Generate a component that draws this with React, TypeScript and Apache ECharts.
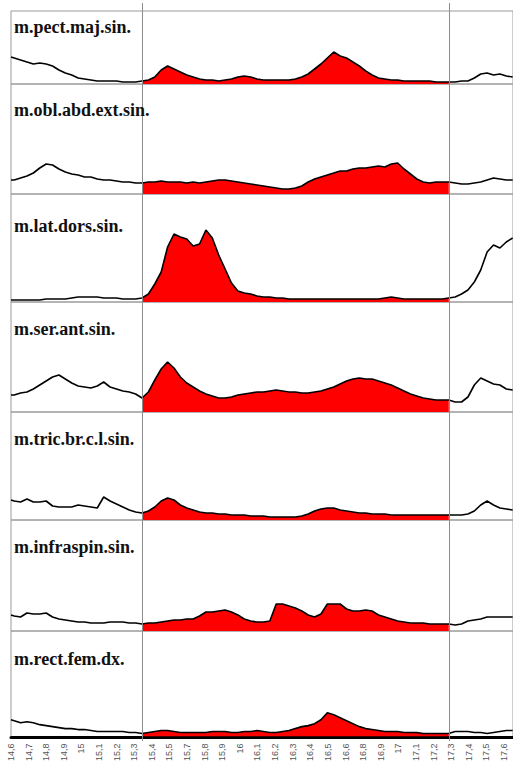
import React, { useEffect, useRef } from "react";
import * as echarts from "echarts";

// ---------- DATA ----------
const MUSCLES = [
  "m.pect.maj.sin.",
  "m.obl.abd.ext.sin.",
  "m.lat.dors.sin.",
  "m.ser.ant.sin.",
  "m.tric.br.c.l.sin.",
  "m.infraspin.sin.",
  "m.rect.fem.dx.",
];

const TIMES = [
  14.60, 14.62, 14.66, 14.70, 14.74, 14.78, 14.82, 14.86, 14.90, 14.94,
  14.98, 15.02, 15.06, 15.10, 15.14, 15.18, 15.22, 15.26, 15.30, 15.34,
  15.38, 15.42, 15.46, 15.50, 15.54, 15.58, 15.62, 15.66, 15.70, 15.74,
  15.78, 15.82, 15.86, 15.90, 15.94, 15.98, 16.02, 16.06, 16.10, 16.14,
  16.18, 16.22, 16.26, 16.30, 16.34, 16.38, 16.42, 16.46, 16.50, 16.54,
  16.58, 16.62, 16.66, 16.70, 16.74, 16.78, 16.82, 16.86, 16.90, 16.94,
  16.98, 17.02, 17.06, 17.10, 17.14, 17.18, 17.22, 17.26, 17.30, 17.34,
  17.38, 17.42, 17.46, 17.50, 17.54, 17.58, 17.62, 17.66, 17.70, 17.74,
];

const PECT_MAJ = [
  27,
  26, 24, 22, 20, 21, 20, 18, 14, 11, 9, 6, 5, 4, 3, 3, 3, 3, 2, 2, 2, 3,
  4, 7, 14, 18, 15, 12, 9, 7, 5, 4,
  4, 3, 4, 5, 7, 8, 7, 5, 4, 4,
  4, 4, 4, 5, 7, 10, 15, 20, 26, 32,
  28, 26, 22, 18, 13, 9, 6, 5, 4, 4,
  3, 3, 3, 3, 3, 2, 2, 2,
  2, 3, 3, 6, 10, 11, 9, 10, 8,
  7,
];

const OBL_ABD = [
  14,
  14, 16, 18, 21, 26, 30, 29, 25, 22, 20, 19, 17, 17, 15, 14, 14, 13, 12, 12, 11, 11,
  12, 12, 13, 12, 12, 12, 11, 12, 11, 12,
  13, 14, 14, 13, 12, 11, 10, 9, 8, 7,
  6, 5, 5, 6, 8, 12, 15, 17, 19, 21,
  23, 23, 25, 26, 26, 27, 28, 27, 30, 31,
  25, 20, 15, 12, 11, 12, 12, 12,
  11, 10, 10, 11, 12, 14, 16, 15, 14,
  14,
];

const LAT_DORS = [
  2,
  2, 2, 2, 2, 2, 3, 3, 3, 3, 4, 5, 5, 5, 5, 4, 4, 4, 3, 3, 3, 4,
  8, 18, 30, 55, 68, 65, 63, 56, 58, 72,
  64, 47, 33, 19, 11, 9, 8, 6, 5, 5,
  4, 4, 3, 3, 3, 3, 3, 3, 3, 3,
  3, 3, 3, 3, 3, 3, 3, 4, 5, 4,
  3, 3, 3, 3, 3, 3, 3, 4,
  5, 8, 12, 20, 32, 50, 57, 54, 60,
  64,
];

const SER_ANT = [
  17,
  17, 19, 20, 23, 27, 31, 35, 37, 33, 29, 26, 25, 24, 26, 30, 25, 23, 21, 20, 18, 14,
  20, 32, 43, 50, 44, 35, 29, 25, 21, 18,
  16, 14, 14, 15, 17, 18, 19, 20, 20, 21,
  22, 21, 20, 20, 19, 19, 20, 21, 23, 25,
  28, 31, 33, 34, 33, 33, 31, 29, 27, 24,
  21, 18, 16, 14, 13, 12, 12, 12,
  10, 10, 15, 27, 34, 31, 28, 27, 23,
  22,
];

const TRIC_BR = [
  20,
  19, 18, 21, 18, 18, 19, 14, 13, 13, 13, 15, 14, 13, 12, 23, 19, 16, 13, 10, 8, 7,
  9, 13, 19, 22, 20, 15, 12, 10, 8, 7,
  7, 6, 6, 5, 5, 5, 4, 4, 4, 3,
  3, 3, 3, 3, 4, 6, 9, 11, 12, 12,
  10, 9, 8, 7, 7, 6, 6, 6, 5, 5,
  5, 5, 5, 5, 5, 5, 5, 5,
  5, 5, 6, 9, 15, 19, 15, 12, 11,
  10,
];

const INFRASPIN = [
  16,
  15, 14, 18, 17, 17, 18, 14, 12, 11, 10, 9, 9, 8, 8, 8, 9, 9, 9, 8, 8, 7,
  8, 8, 9, 10, 11, 11, 12, 12, 15, 19,
  19, 20, 21, 19, 16, 12, 10, 9, 9, 10,
  27, 27, 25, 23, 20, 16, 14, 17, 27, 27,
  27, 22, 20, 20, 21, 20, 16, 14, 12, 10,
  9, 8, 8, 8, 7, 7, 7, 7,
  6, 7, 10, 11, 12, 14, 14, 14, 14,
  14,
];

const RECT_FEM = [
  17,
  16, 14, 15, 14, 12, 11, 10, 9, 8, 8, 7, 7, 6, 5, 5, 5, 5, 5, 4, 4, 3,
  4, 5, 6, 6, 5, 4, 4, 4, 4, 4,
  5, 5, 5, 4, 4, 5, 5, 6, 5, 4,
  4, 5, 6, 8, 10, 11, 13, 17, 24, 22,
  19, 16, 13, 10, 8, 7, 6, 5, 5, 5,
  4, 4, 4, 3, 3, 3, 3, 3,
  5, 5, 5, 4, 4, 3, 4, 5, 6,
  6,
];

const EVENT_START = 15.42;
const EVENT_END = 17.34;

const TICK_LABELS = [
  "14,6", "14,7", "14,8", "14,9", "15", "15,1", "15,2", "15,3", "15,4", "15,5",
  "15,7", "15,8", "15,9", "16", "16,1", "16,2", "16,3", "16,4", "16,5", "16,6",
  "16,8", "16,9", "17", "17,1", "17,2", "17,3", "17,4", "17,5", "17,6",
];
const TICK_START = 14.6;
const TICK_STEP = 0.1102;
const X_MIN = 14.6;
const X_MAX = 17.742;

const Y_MAX = [73, 110, 108, 110, 108, 111, 107];

// ---------- LAYOUT ----------
const W = 513;
const H = 764;
const PANEL_TOPS = [11, 84, 194, 302, 412, 520, 631];
const PANEL_BOTTOM = 738;
const TITLE_TOPS = [18, 101, 217, 320, 430, 538, 650];
const LEFT = 11;
const RIGHT = -2;

export default function App() {
  const ref = useRef<HTMLDivElement>(null);

  useEffect(() => {
    if (!ref.current) return;
    const chart = echarts.init(ref.current, null, { renderer: "svg" });
    const values = [PECT_MAJ, OBL_ABD, LAT_DORS, SER_ANT, TRIC_BR, INFRASPIN, RECT_FEM];
    const n = MUSCLES.length;

    const grid: any[] = [];
    const xAxis: any[] = [];
    const yAxis: any[] = [];
    const series: any[] = [];
    const title: any[] = [];

    for (let i = 0; i < n; i++) {
      const top = PANEL_TOPS[i];
      const bottomPx = i < n - 1 ? PANEL_TOPS[i + 1] : PANEL_BOTTOM;
      grid.push({
        left: LEFT,
        right: RIGHT,
        top,
        height: bottomPx - top,
        show: true,
        borderColor: "#9a9a9a",
        borderWidth: 1,
        backgroundColor: "transparent",
      });
      const isLast = i === n - 1;
      xAxis.push({
        gridIndex: i,
        type: "value",
        min: X_MIN,
        max: X_MAX,
        interval: TICK_STEP,
        position: "bottom",
        offset: isLast ? 1 : 0,
        axisLine: { show: isLast, onZero: false, lineStyle: { color: "#000", width: 3 } },
        axisTick: { show: false },
        splitLine: { show: false },
        axisLabel: {
          show: isLast,
          rotate: 90,
          fontSize: 9,
          color: "#555",
          margin: 6,
          fontFamily: "Liberation Sans, Arial, sans-serif",
          showMaxLabel: false,
          formatter: (v: number) => {
            const k = Math.round((v - TICK_START) / TICK_STEP);
            return TICK_LABELS[k] ?? "";
          },
        },
      });
      yAxis.push({
        gridIndex: i,
        type: "value",
        min: 0,
        max: Y_MAX[i],
        show: false,
        splitLine: { show: false },
      });
      const vals = values[i];
      const redData = TIMES.map((t, k) => [t, vals[k]]).filter(
        (p) => p[0] >= EVENT_START && p[0] <= EVENT_END
      );
      series.push({
        type: "line",
        xAxisIndex: i,
        yAxisIndex: i,
        data: redData,
        symbol: "none",
        silent: true,
        lineStyle: { width: 0 },
        areaStyle: { color: "#ff0000", opacity: 1 },
        z: 2,
      });
      series.push({
        type: "line",
        xAxisIndex: i,
        yAxisIndex: i,
        data: TIMES.map((t, k) => [t, vals[k]]),
        symbol: "none",
        silent: true,
        lineStyle: { color: "#000", width: 1.6 },
        z: 3,
      });
      title.push({
        text: MUSCLES[i],
        left: 14,
        top: TITLE_TOPS[i],
        padding: 0,
        textStyle: {
          fontFamily: "Liberation Serif, serif",
          fontWeight: "bold",
          fontSize: 18,
          color: "#111",
        },
      });
    }

    // overlay grid for event markers
    grid.push({ left: LEFT, right: RIGHT, top: 3, bottom: H - 741, show: false });
    xAxis.push({ gridIndex: n, type: "value", min: X_MIN, max: X_MAX, show: false, splitLine: { show: false } });
    yAxis.push({ gridIndex: n, type: "value", min: 0, max: 1, show: false, splitLine: { show: false } });
    series.push({
      type: "line",
      xAxisIndex: n,
      yAxisIndex: n,
      data: [],
      symbol: "none",
      silent: true,
      z: 4,
      markLine: {
        silent: true,
        symbol: ["none", "none"],
        label: { show: false },
        lineStyle: { color: "#8c8c8c", width: 1, type: "solid" },
        data: [{ xAxis: EVENT_START }, { xAxis: EVENT_END }],
      },
    });

    chart.setOption({
      animation: false,
      backgroundColor: "#fff",
      title,
      grid,
      xAxis,
      yAxis,
      series,
    });
    return () => chart.dispose();
  }, []);

  return (
    <div
      ref={ref}
      style={{ position: "fixed", left: 0, top: 0, width: W, height: H }}
    />
  );
}
